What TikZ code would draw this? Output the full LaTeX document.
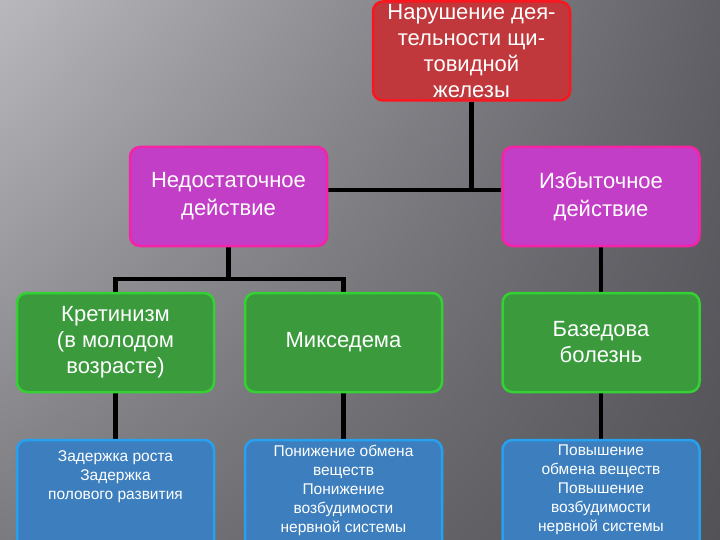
\documentclass[tikz,border=0pt]{standalone}
\usepackage{fontspec}
\setmainfont{Liberation Sans}
\usetikzlibrary{backgrounds,shadings}
\definecolor{bgul}{RGB}{184,184,189}
\definecolor{bgur}{RGB}{96,96,102}
\definecolor{bgll}{RGB}{122,122,127}
\definecolor{bglr}{RGB}{82,82,87}
\definecolor{redf}{RGB}{192,56,60}
\definecolor{redb}{RGB}{250,22,30}
\definecolor{magf}{RGB}{194,62,198}
\definecolor{magb}{RGB}{245,35,165}
\definecolor{grnf}{RGB}{58,154,60}
\definecolor{grnb}{RGB}{52,208,52}
\definecolor{bluf}{RGB}{60,126,190}
\definecolor{blub}{RGB}{40,160,240}
\tikzset{
  box/.style={draw, rounded corners=10pt, line width=2.5pt, minimum width=197pt,
    minimum height=99pt, text=white, align=center, inner sep=2pt},
  redbox/.style={box, fill=redf, draw=redb, font=\fontsize{22}{26}\selectfont},
  magbox/.style={box, fill=magf, draw=magb, font=\fontsize{22}{28}\selectfont},
  grnbox/.style={box, fill=grnf, draw=grnb, font=\fontsize{22}{26}\selectfont},
  blubox/.style={box, fill=bluf, draw=blub, minimum height=112pt},
  blutxt/.style={text=white, align=center, inner sep=0pt, font=\fontsize{15.5}{19}\selectfont},
  link/.style={line width=4.5pt, black}
}
\begin{document}
\begin{tikzpicture}[x=1pt, y=-1pt]
\useasboundingbox (0,0) rectangle (720,540);
\begin{scope}[on background layer]
\shade[upper left=bgul, upper right=bgur, lower left=bgll, lower right=bglr] (0,0) rectangle (720,540);
\end{scope}
% top
\node[redbox] (nar) at (471.5,51) {Нарушение дея-\\тельности щи-\\товидной\\железы};
% second row
\node[magbox] (ned) at (228.5,196.5) {Недостаточное\\действие};
\node[magbox] (izb) at (601,196.5) {Избыточное\\действие};
% diseases
\node[grnbox] (kret) at (115.5,342.5) {Кретинизм\\(в молодом\\возрасте)};
\node[grnbox] (mix) at (343.5,342.5) {Микседема};
\node[grnbox] (baz) at (601,342.5) {Базедова\\болезнь};
% effects
\node[blubox] (zad) at (115.5,496) {};
\node[blubox] (pon) at (343.5,496) {};
\node[blubox] (pov) at (601,496) {};
\node[blutxt] (zadt) at (115.5,477) {Задержка роста\\Задержка\\полового развития};
\node[blutxt] (pont) at (343.5,490) {Понижение обмена\\веществ\\Понижение\\возбудимости\\нервной системы};
\node[blutxt] (povt) at (601,490) {Повышение\\обмена веществ\\Повышение\\возбудимости\\нервной системы};
\begin{scope}[on background layer]
\coordinate (junc) at (471.5,190);
\coordinate (split) at (228.5,280);
\draw[link] (nar.south) -- (junc);
\draw[link] ([yshift=6.5pt]ned.east) -- ([yshift=6.5pt]izb.west);
\draw[link] (ned.south) -- (split);
\draw[link] (kret.north) -- ++(0,-13) -| (mix.north);
\draw[link] (izb.south) -- (baz.north);
\draw[link] (kret.south) -- (zad.north);
\draw[link] (mix.south) -- (pon.north);
\draw[link] (baz.south) -- (pov.north);
\end{scope}
\end{tikzpicture}
\end{document}
